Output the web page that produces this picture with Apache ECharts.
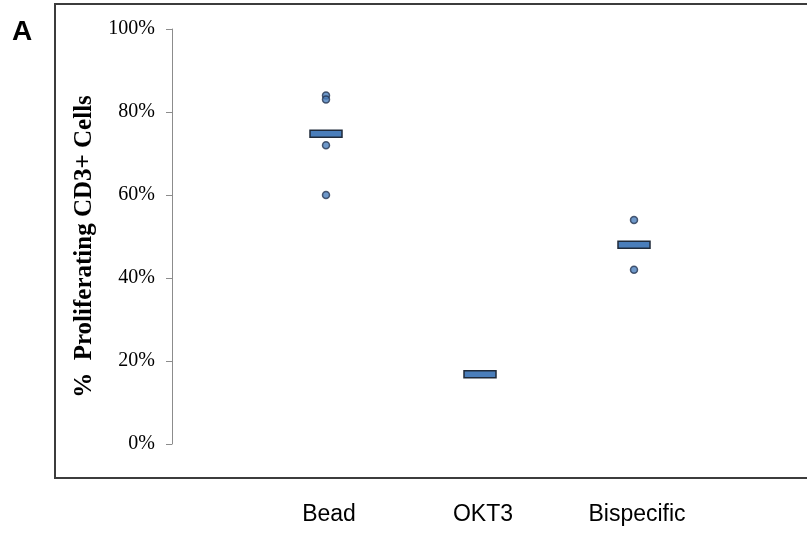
<!DOCTYPE html>
<html>
<head>
<meta charset="utf-8">
<script src="https://cdn.jsdelivr.net/npm/echarts@6/dist/echarts.min.js"></script>
<style>
  html, body { margin: 0; padding: 0; background: #ffffff; }
  #chart { width: 807px; height: 533px; }
</style>
</head>
<body>
<div id="chart"></div>
<script>
// Groups placed at x = 1, 2, 3
const categories = ['Bead', 'OKT3', 'Bispecific'];
const groupPositions = [1, 2, 3];

// Individual measurements (% proliferating CD3+ cells)
const beadValues = [84, 83, 72, 60];
const okt3Values = [];
const bispecificValues = [54, 42];

// Group means
const meanValues = [74.75, 16.8, 48];

const yTicks = [0, 20, 40, 60, 80, 100];

const groups = [beadValues, okt3Values, bispecificValues];
const pointData = [];
groups.forEach((vals, i) => {
  vals.forEach(v => pointData.push([groupPositions[i], v]));
});
const meanData = meanValues.map((v, i) => [groupPositions[i], v]);

const chart = echarts.init(document.getElementById('chart'), null, { renderer: 'canvas' });

const option = {
  animation: false,
  backgroundColor: '#ffffff',
  grid: { left: 172, top: 29, right: 19, bottom: 89, containLabel: false },
  xAxis: {
    type: 'value',
    min: 0,
    max: 4,
    interval: 1,
    axisLine: { show: false },
    axisTick: { show: false },
    splitLine: { show: false },
    axisLabel: {
      margin: 59,
      padding: [0, 0, 0, 6],
      fontFamily: '"Liberation Sans", Arial, sans-serif',
      fontSize: 23,
      color: '#000000',
      formatter: function (v) {
        const idx = groupPositions.indexOf(v);
        return idx >= 0 ? categories[idx] : '';
      }
    }
  },
  yAxis: {
    type: 'value',
    min: 0,
    max: 100,
    interval: 20,
    name: '%  Proliferating CD3+ Cells',
    nameLocation: 'middle',
    nameGap: 71,
    nameRotate: 90,
    nameTextStyle: {
      fontFamily: '"Liberation Serif", "Times New Roman", serif',
      fontWeight: 'bold',
      fontSize: 25,
      color: '#000000',
      padding: [0, 20, 0, 0]
    },
    axisLine: { show: true, lineStyle: { color: '#8c8c8c', width: 1 } },
    axisTick: { show: true, inside: false, length: 6, lineStyle: { color: '#8c8c8c' } },
    splitLine: { show: false },
    axisLabel: {
      margin: 17,
      fontFamily: '"Liberation Serif", "Times New Roman", serif',
      fontSize: 20,
      color: '#000000',
      formatter: function (v) { return yTicks.indexOf(v) >= 0 ? v + '%' : ''; }
    }
  },
  graphic: [
    {
      type: 'rect',
      z: -1,
      shape: { x: 55, y: 4, width: 800, height: 474 },
      style: { fill: 'none', stroke: '#3c3c3c', lineWidth: 2 }
    },
    {
      type: 'text',
      left: 12,
      top: 18,
      style: {
        text: 'A',
        fontFamily: '"Liberation Sans", Arial, sans-serif',
        fontWeight: 'bold',
        fontSize: 28,
        fill: '#000000'
      }
    }
  ],
  series: [
    {
      type: 'scatter',
      name: 'Samples',
      data: pointData,
      symbol: 'circle',
      symbolSize: 7,
      itemStyle: { color: '#4a7ebb', borderColor: '#253550', borderWidth: 1.5 },
      z: 2
    },
    {
      // mean marker: a short horizontal block centred on each group's mean
      type: 'custom',
      name: 'Mean',
      data: meanData,
      encode: { x: 0, y: 1 },
      z: 3,
      renderItem: function (params, api) {
        const p = api.coord([api.value(0), api.value(1)]);
        const w = 32, h = 7;
        return {
          type: 'rect',
          shape: { x: p[0] - w / 2, y: p[1] - h / 2, width: w, height: h },
          style: { fill: '#4a7ebb', stroke: '#1f2a3a', lineWidth: 1.5 }
        };
      }
    }
  ]
};

chart.setOption(option);
</script>
</body>
</html>
